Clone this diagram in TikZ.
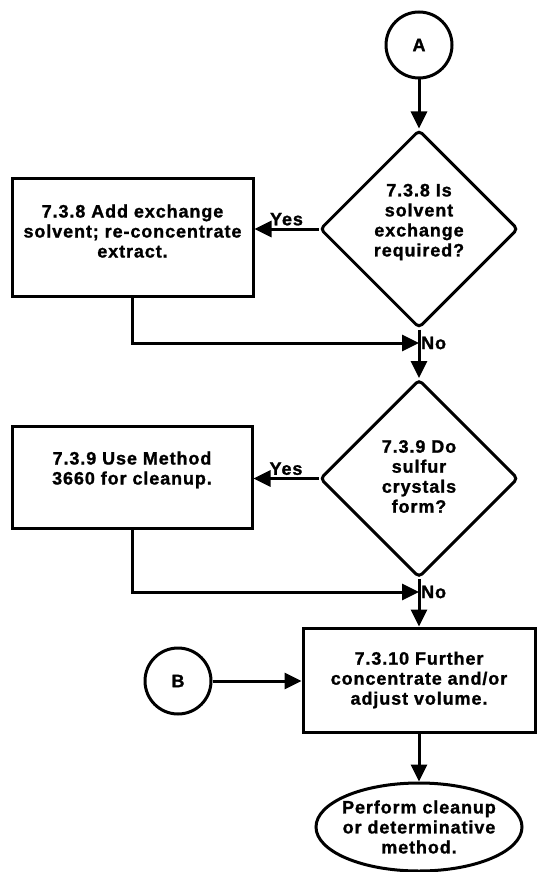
\documentclass[tikz,border=0pt]{standalone}
\usepackage{fontspec}
\setmainfont{Liberation Sans}[LetterSpace=5,BoldFeatures={FakeBold=1.2}]
\usetikzlibrary{shapes.geometric,arrows.meta}
\begin{document}
\begin{tikzpicture}[x=1pt,y=-1pt,
  every node/.style={font=\fontsize{18}{20}\selectfont\bfseries},
  ln/.style={line width=3pt},
  arr/.style={ln,-{Triangle[length=17pt,width=16pt]}},
  proc/.style={draw,ln,rectangle,align=center,inner sep=0pt},
  decision/.style={draw,ln,diamond,inner sep=0pt,minimum width=198pt,minimum height=198pt,rounded corners=4pt},
  conn/.style={draw,ln,circle,inner sep=0pt,minimum size=66pt},
  term/.style={draw,ln,ellipse,inner sep=0pt,minimum width=206pt,minimum height=88pt},
  lbl/.style={inner sep=2pt}]
\useasboundingbox (0,0) rectangle (536,872);
\node[conn] (A) at (419,45) {A};
\node[decision,label={[align=center,yshift=7pt]center:7.3.8 Is\\solvent\\exchange\\required?}] (d1) at (419,229) {};
\node[proc,minimum width=241pt,minimum height=118pt,text depth=12pt] (box1) at (132.5,237) {7.3.8 Add exchange\\solvent; re-concentrate\\extract.};
\coordinate (j1) at (419,343);
\node[decision,label={[align=center,yshift=2pt]center:7.3.9 Do\\sulfur\\crystals\\form?}] (d2) at (419,478.5) {};
\node[proc,minimum width=240pt,minimum height=102pt,text depth=18pt] (box2) at (132,477) {7.3.9 Use Method\\3660 for cleanup.};
\coordinate (j2) at (419,592);
\node[proc,minimum width=232pt,minimum height=104pt] (box3) at (419,680) {7.3.10 Further\\concentrate and/or\\adjust volume.};
\node[conn] (B) at (178,681) {B};
\node[term,label={[align=center]center:Perform cleanup\\or determinative\\method.}] (end) at (419,827) {};
\draw[arr] (A.south) -- (d1.north);
\draw[arr] (d1.west) -- node[above,lbl] (yes1) {Yes} (d1.west -| box1.east);
\draw[ln] (d1.south) -- (j1);
\draw[arr] (box1.south) |- (j1);
\node[right,lbl] (no1) at (j1) {No};
\draw[arr] (j1) -- (d2.north);
\draw[arr] (d2.west) -- node[above,lbl] (yes2) {Yes} (d2.west -| box2.east);
\draw[ln] (d2.south) -- (j2);
\draw[arr] (box2.south) |- (j2);
\node[right,lbl] (no2) at (j2) {No};
\draw[arr] (j2) -- (box3.north);
\draw[arr] (B.east) -- (B.east -| box3.west);
\draw[arr] (box3.south) -- (end.north);
\end{tikzpicture}
\end{document}
